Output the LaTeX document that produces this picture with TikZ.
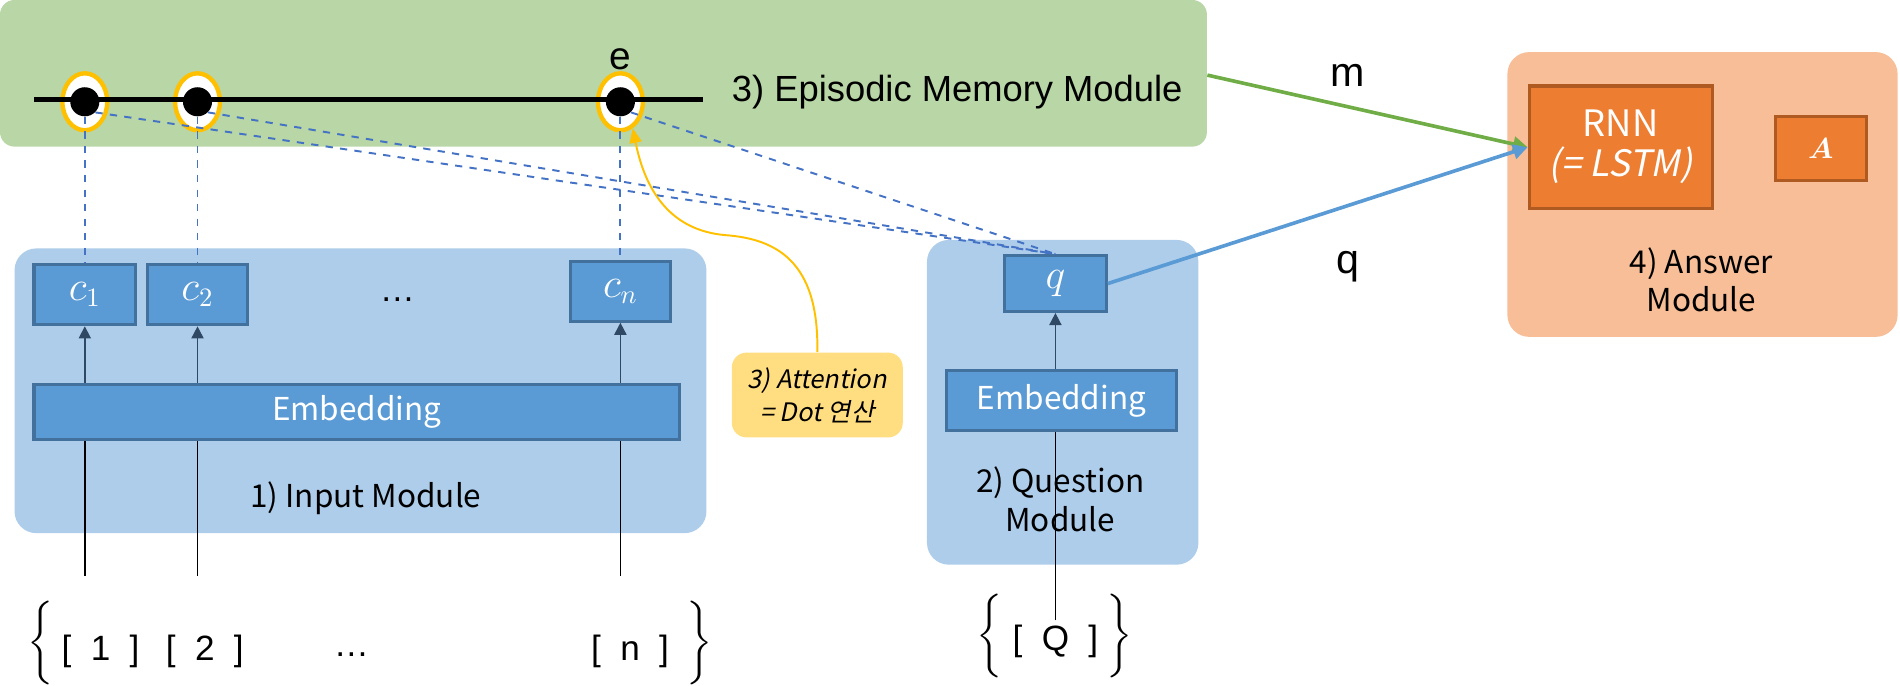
\documentclass[tikz,border=0pt]{standalone}
\usepackage{amsmath}
\usepackage{fontspec}
\setmainfont{Liberation Sans}
\newfontfamily\krfont{Noto Sans CJK KR}
\newfontfamily\krit[FakeSlant=0.2]{Noto Sans CJK KR}
\definecolor{memgreen}{RGB}{184,214,166}
\definecolor{modblue}{RGB}{174,205,234}
\definecolor{boxblue}{RGB}{91,155,213}
\definecolor{boxedge}{RGB}{65,113,156}
\definecolor{ansorange}{RGB}{247,190,152}
\definecolor{rnnorange}{RGB}{237,125,49}
\definecolor{rnnedge}{RGB}{174,90,33}
\definecolor{attyellow}{RGB}{255,222,130}
\definecolor{ringgold}{RGB}{255,192,0}
\definecolor{dashblue}{RGB}{68,114,196}
\definecolor{arrowgreen}{RGB}{112,173,71}
\definecolor{arrowdark}{RGB}{47,72,100}
\newcommand\modfont{\krfont\fontsize{13}{16}\selectfont}
\newcommand\embfont{\krfont\fontsize{13}{15}\selectfont}
\newcommand\memfont{\fontsize{15}{18}\selectfont}
\newcommand\lblfont{\fontsize{17}{20}\selectfont}
\newcommand\brfont{\fontsize{14.5}{17}\selectfont}
\newcommand\bracehigh{\rule[-11pt]{0pt}{22pt}}
\usetikzlibrary{positioning,calc,arrows.meta,shapes.geometric}

\begin{document}
\begin{tikzpicture}
    [x=0.5pt,y=-0.5pt,
      module/.style={rectangle,rounded corners=9pt,inner sep=0pt},
      cell/.style={rectangle,draw=boxedge,line width=1.3pt,fill=boxblue,text=white,inner sep=0pt},
      anscell/.style={rectangle,draw=rnnedge,line width=1.3pt,fill=rnnorange,text=white,inner sep=0pt,align=center},
      ring/.style={ellipse,draw=ringgold,line width=1.8pt,fill=white,minimum width=18.5pt,minimum height=23.5pt,inner sep=0pt},
      dot/.style={circle,fill=black,minimum size=12pt,inner sep=0pt},
      link/.style={dashed,dashblue,line width=0.8pt},
      feed/.style={arrowdark,line width=0.7pt,-{Triangle[width=5pt,length=5pt]}},
      modtext/.style={font=\modfont,align=center}]

    \useasboundingbox (0,0) rectangle (1568,566);

    % modules
    \node [module,fill=memgreen,rounded corners=6pt,minimum width=498pt,minimum height=60.5pt] (mem) at (498,60.5) {};
    \node [module,fill=modblue,minimum width=285.5pt,minimum height=117.5pt] (inmod) at (297.5,322.5) {};
    \node [module,fill=modblue,minimum width=112pt,minimum height=134pt] (qmod) at (877,332) {};
    \node [module,fill=ansorange,minimum width=161pt,minimum height=117.5pt] (ansmod) at (1405,160.5) {};

    % 1) input module
    \node [cell,minimum width=42pt,minimum height=25pt,font=\fontsize{16}{18}\selectfont] (c1) at (70,243) {$c_1$};
    \node [cell,minimum width=41.5pt,minimum height=25pt,font=\fontsize{16}{18}\selectfont] (c2) at (163,243) {$c_2$};
    \node [cell,minimum width=41pt,minimum height=24.5pt,font=\fontsize{16}{18}\selectfont] (cn) at (512,240.5) {$c_n$};
    \node [font=\brfont] (cdots) at (328,247) {\ldots};
    \node [cell,minimum width=266.5pt,minimum height=23pt,font=\embfont] (emb1) at (294.5,340) {Embedding};
    \node [modtext] (intitle) at (302,411) {1) Input Module};

    \foreach \c in {c1,c2,cn} {
      \coordinate (in-\c) at (\c.south |- 0,475);
      \draw [line width=0.7pt] (in-\c) -- (in-\c |- emb1.south);
      \draw [feed] (\c.south |- emb1.north) -- (\c.south);
    }

    % 2) question module
    \node [cell,minimum width=42pt,minimum height=23pt,font=\fontsize{16}{18}\selectfont] (q) at (871,234) {$q$};
    \node [cell,minimum width=95pt,minimum height=24.5pt,font=\embfont] (emb2) at (876,330.5) {Embedding};
    \node [modtext] (qtitle) at (875,412) {2) Question\\Module};
    \coordinate (in-q) at (q.south |- 0,512);
    \draw [line width=0.7pt] (in-q) -- (in-q |- emb2.south);
    \draw [feed] (q.south |- emb2.north) -- (q.south);

    % 3) episodic memory
    \foreach \n/\x in {1/70,2/163,3/512}
      \node [ring] (ring\n) at (\x,84) {};
    \coordinate (tline-w) at (28,82);
    \coordinate (tline-e) at (580,82);
    \draw [line width=2.2pt] (tline-w) -- (tline-e);
    \foreach \n in {1,2,3}
      \node [dot] (dot\n) at (ring\n) {};
    \node [font=\fontsize{16}{19}\selectfont,above=-3pt of ring3] (e) {e};
    \node [anchor=west,font=\memfont] (memtitle) at (597,76) {3) Episodic Memory Module};

    \foreach \n/\c in {1/c1,2/c2,3/cn} {
      \draw [link] (dot\n.south) -- (\c.north);
      \draw [link] (dot\n.south east) -- (q.north);
    }

    % attention note
    \node [module,fill=attyellow,rounded corners=6pt,minimum width=70.5pt,minimum height=35pt,align=center,
      font=\krit\fontsize{10.5}{13.5}\selectfont] (att) at (674.5,326) {3) Attention\\= Dot 연산};
    \draw [ringgold,line width=0.8pt,-{Triangle[width=5pt,length=6pt]}] (att.north)
      .. controls (676,215) and (640,197) .. (598,194)
      .. controls (555,190) and (533,160) .. (ring3.-65);

    % 4) answer module
    \node [anscell,minimum width=75.5pt,minimum height=50.5pt,font=\krfont\fontsize{15}{16.5}\selectfont] (rnn) at (1337.5,121.5)
      {RNN\\{\krit(= LSTM)}};
    \node [anscell,minimum width=37.5pt,minimum height=26.5pt,font=\fontsize{13}{16}\selectfont] (ans) at (1502.5,122.5) {$\boldsymbol{A}$};
    \node [modtext] (anstitle) at (1404,231) {4) Answer\\Module};

    \coordinate (mout) at (mem.east |- 0,62);
    \draw [arrowgreen,line width=1.5pt,-{Triangle[width=6pt,length=6pt]}] (mout) -- (rnn.west);
    \draw [boxblue,line width=1.5pt,-{Triangle[width=6pt,length=6pt]}] (q.east) -- (rnn.west);
    \node [font=\lblfont] (mlab) at (1112,62) {m};
    \node [font=\lblfont] (qlab) at (1112,220) {q};

    % inputs
    \node [font=\brfont] (lbrace) at (35,531) {$\left\{\bracehigh\right.$};
    \node [font=\brfont] (br1) at (83,538) {[\hspace{.55em}1\hspace{.55em}]};
    \node [font=\brfont] (br2) at (169,538) {[\hspace{.55em}2\hspace{.55em}]};
    \node [font=\brfont] (brdots) at (290,540) {\ldots};
    \node [font=\brfont] (brn) at (520,538) {[\hspace{.55em}n\hspace{.55em}]};
    \node [font=\brfont] (rbrace) at (576,531) {$\left.\bracehigh\right\}$};

    \node [font=\brfont] (lbraceq) at (818,525) {$\left\{\bracehigh\right.$};
    \node [font=\brfont] (brq) at (871,529) {[\hspace{.55em}Q\hspace{.55em}]};
    \node [font=\brfont] (rbraceq) at (923,525) {$\left.\bracehigh\right\}$};
\end{tikzpicture}
\end{document}
